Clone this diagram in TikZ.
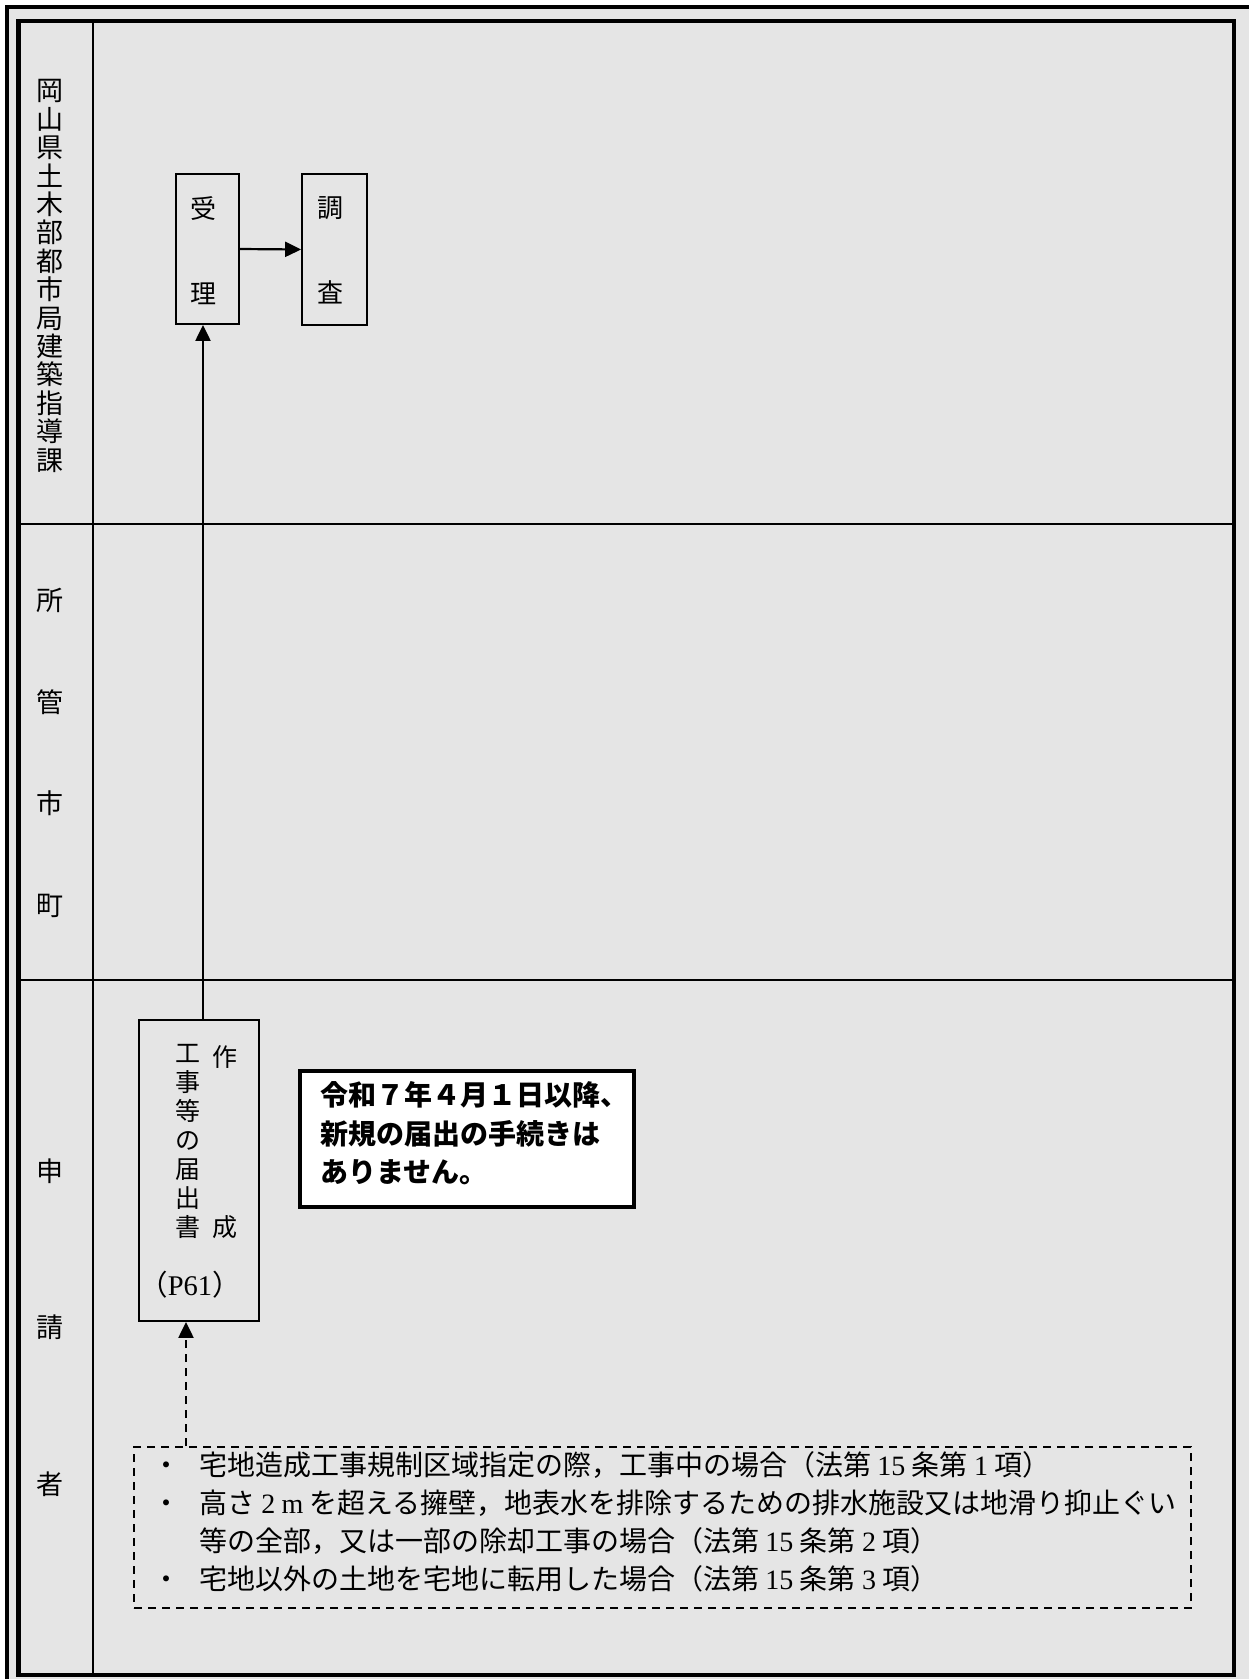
\documentclass[tikz,border=0pt]{standalone}
\usepackage{fontspec}
\setmainfont{Noto Sans CJK JP}
\newfontfamily\lserif{Liberation Serif}
\newcommand\latn[1]{{\lserif #1}}
\newcommand\cs{\vrule height 0.88em depth 0.12em width 0pt}
\usetikzlibrary{arrows.meta}
\definecolor{bggray}{RGB}{229,229,229}
\begin{document}
\begin{tikzpicture}[x=1pt,y=-1pt,
  lanelbl/.style={inner sep=0pt, align=center, anchor=north},
  procbox/.style={draw, line width=1.8pt, inner sep=0pt},
  arr/.style={-{Triangle[length=16pt,width=15pt]}, line width=2.2pt},
  txt/.style={inner sep=0pt},
  noteln/.style={inner sep=0pt, anchor=west, font=\fontsize{28}{28}\selectfont, text height=0.88em, text depth=0.12em},
  bul/.style={inner sep=0pt, font=\fontsize{28}{28}\selectfont, text height=0.88em, text depth=0.12em},
]
\useasboundingbox (0,0) rectangle (1248,1679);
\fill[white] (0,0) rectangle (1248,1679);
\fill[bggray] (7,7) rectangle (1262,1692);
\draw[line width=3.5pt] (7,7) rectangle (1262,1692);
\draw[line width=4.5pt] (18.3,21) rectangle (1234,1675);
\draw[line width=2pt] (93,21) -- (93,1675);
\draw[line width=2pt] (18.3,524) -- (1234,524);
\draw[line width=2pt] (18.3,980) -- (1234,980);

% lane labels
\node[lanelbl, font=\fontsize{27}{28.4}\selectfont] (lane1) at (49.5,77)
  {\cs 岡\\山\\県\\土\\木\\部\\都\\市\\局\\建\\築\\指\\導\\課};
\node[lanelbl, font=\fontsize{27}{101.7}\selectfont] (lane2) at (49.5,586.5)
  {\cs 所\\管\\市\\町};
\node[lanelbl, font=\fontsize{27}{156.5}\selectfont] (lane3) at (49.5,1157.5)
  {\cs 申\\請\\者};

% process boxes
\node[procbox, minimum width=63pt, minimum height=150pt] (uketori) at (207.5,249) {};
\node[procbox, minimum width=65pt, minimum height=151pt] (chosa) at (334.5,249.5) {};
\node[lanelbl, font=\fontsize{26}{85}\selectfont] (uketoriT) at (203.5,195) {\cs 受\\理};
\node[lanelbl, font=\fontsize{26}{85}\selectfont] (chosaT) at (330.8,194) {\cs 調\\査};

\node[procbox, minimum width=120.4pt, minimum height=301pt] (sakusei) at (198.8,1170.5) {};
\node[lanelbl, font=\fontsize{25}{29}\selectfont] (sakuseiA) at (187.5,1040.5)
  {\cs 工\\事\\等\\の\\届\\出\\書};
\node[lanelbl, font=\fontsize{25}{170}\selectfont] (sakuseiB) at (225,1044.5)
  {\cs 作\\成};
\node[txt, font=\fontsize{28.5}{28.5}\selectfont, text height=0.88em, text depth=0.12em] (p61) at (190,1292)
  {（\latn{P61}）};

% arrows
\draw[arr] ([xshift=4.2pt]sakusei.north) -- ([xshift=4.2pt]sakusei.north |- uketori.south);
\draw[arr] (uketori.east) -- (chosa.west);

% notice
\node[draw, fill=white, line width=3.5pt, minimum width=334pt, minimum height=136pt, inner sep=0pt] (notice) at (467,1139) {};
\node[txt, anchor=north west, align=left, font=\fontsize{28}{38.5}\selectfont\bfseries] (noticeT) at (320,1081)
  {\cs 令和７年４月１日以降、\\新規の届出の手続きは\\ありません。};

% notes
\node[draw, dash pattern=on 8pt off 6pt, line width=1.6pt, minimum width=1057pt, minimum height=161pt, inner sep=0pt] (notes) at (662.5,1527.5) {};
\node[bul] (b1) at (166,1472) {・};
\node[noteln] (l1) at (199,1472) {宅地造成工事規制区域指定の際，工事中の場合（法第 \latn{15} 条第 \latn{1} 項）};
\node[bul] (b2) at (166,1510) {・};
\node[noteln] (l2) at (199,1510) {高さ \latn{2} \latn{m} を超える擁壁，地表水を排除するための排水施設又は地滑り抑止ぐい};
\node[noteln] (l3) at (199,1548) {等の全部，又は一部の除却工事の場合（法第 \latn{15} 条第 \latn{2} 項）};
\node[bul] (b4) at (166,1586) {・};
\node[noteln] (l4) at (199,1586) {宅地以外の土地を宅地に転用した場合（法第 \latn{15} 条第 \latn{3} 項）};

\draw[arr, dash pattern=on 8pt off 6pt] ([xshift=-12.8pt]sakusei.south |- notes.north) -- ([xshift=-12.8pt]sakusei.south);
\end{tikzpicture}
\end{document}
